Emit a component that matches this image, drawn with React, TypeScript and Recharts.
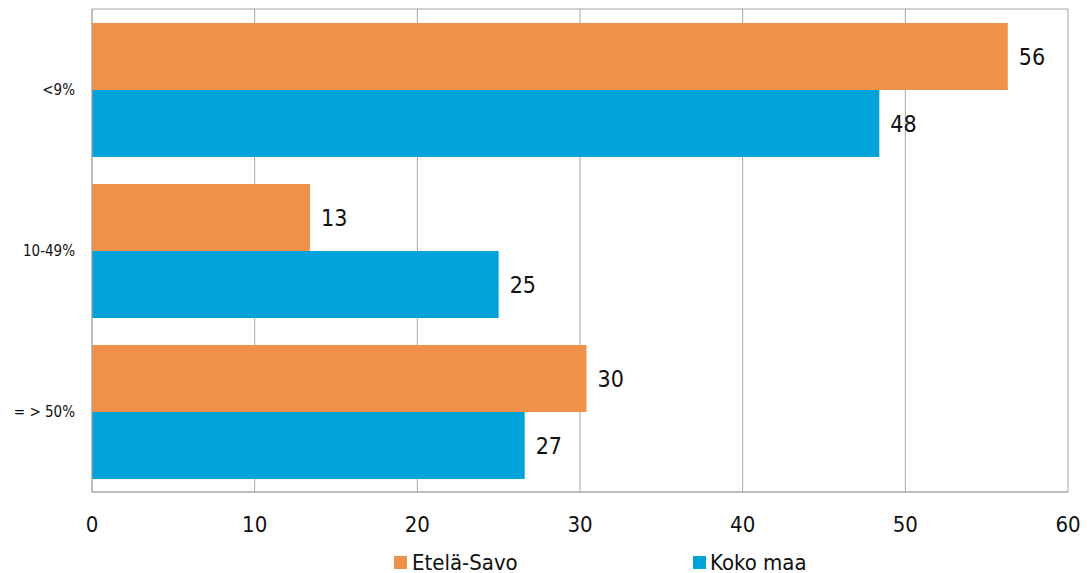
import React from 'react';
import {
  BarChart,
  Bar,
  XAxis,
  YAxis,
  CartesianGrid,
  LabelList,
} from 'recharts';

const CATEGORIES = ['<9%', '10-49%', '= > 50%'];
const ETELA_SAVO = [56.3, 13.4, 30.4];
const KOKO_MAA = [48.4, 25.0, 26.6];
const X_TICKS = [0, 10, 20, 30, 40, 50, 60];

const ORANGE = '#F0914A';
const BLUE = '#02A3D9';
const GRID = '#A6A6A6';
const FONT = "'DejaVu Sans Condensed', 'Liberation Sans Narrow', 'DejaVu Sans', sans-serif";

const data = CATEGORIES.map((name, i) => ({
  name,
  etela: ETELA_SAVO[i],
  koko: KOKO_MAA[i],
}));

const round = (v: any) => Math.round(Number(v));

export default function App() {
  return (
    <div style={{ position: 'absolute', left: 0, top: 0, width: 1091, height: 573, fontFamily: FONT }}>
      <BarChart
        width={1091}
        height={573}
        data={data}
        layout="vertical"
        margin={{ top: 9, right: 23, left: 0, bottom: 31 }}
        barCategoryGap={14}
        barGap={0}
      >
        <CartesianGrid
          stroke={GRID}
          strokeWidth={1}
          horizontalCoordinatesGenerator={({ offset }: any) => [offset.top, offset.top + offset.height]}
        />
        <XAxis
          type="number"
          domain={[0, 60]}
          ticks={X_TICKS}
          interval={0}
          height={50}
          axisLine={{ stroke: GRID }}
          tickLine={false}
          tickSize={0}
          tickMargin={24}
          tick={{ fill: '#111', fontSize: 22, fontFamily: FONT }}
        />
        <YAxis
          type="category"
          dataKey="name"
          width={92}
          axisLine={{ stroke: GRID }}
          tickLine={false}
          tickSize={0}
          tickMargin={17}
          tick={{ fill: '#111', fontSize: 15, fontFamily: FONT }}
        />
        <Bar dataKey="etela" name="Etelä-Savo" fill={ORANGE} isAnimationActive={false}>
          <LabelList
            dataKey="etela"
            position="right"
            offset={11}
            formatter={round}
            style={{ fill: '#111', fontSize: 23, fontFamily: FONT }}
          />
        </Bar>
        <Bar dataKey="koko" name="Koko maa" fill={BLUE} isAnimationActive={false}>
          <LabelList
            dataKey="koko"
            position="right"
            offset={11}
            formatter={round}
            style={{ fill: '#111', fontSize: 23, fontFamily: FONT }}
          />
        </Bar>
      </BarChart>
      <div style={{ position: 'absolute', left: 394, top: 550, display: 'flex', alignItems: 'center', fontSize: 22, color: '#111' }}>
        <span style={{ width: 13, height: 13, background: ORANGE, marginRight: 5 }} />
        <span>Etelä-Savo</span>
      </div>
      <div style={{ position: 'absolute', left: 693, top: 550, display: 'flex', alignItems: 'center', fontSize: 22, color: '#111' }}>
        <span style={{ width: 13, height: 13, background: BLUE, marginRight: 4 }} />
        <span>Koko maa</span>
      </div>
    </div>
  );
}
